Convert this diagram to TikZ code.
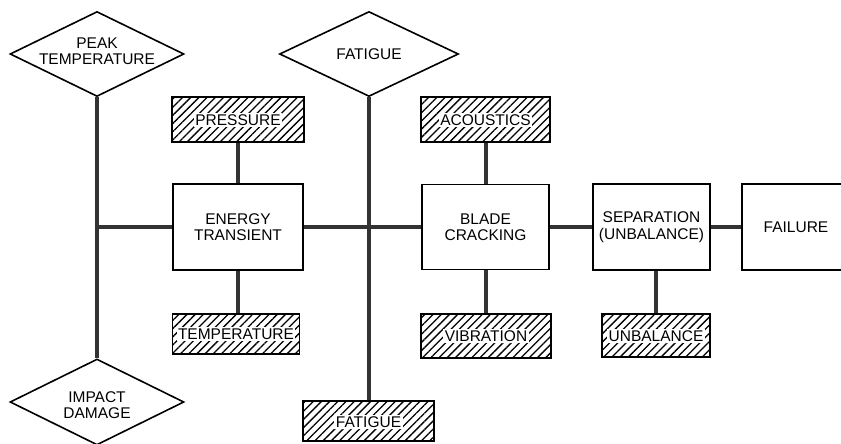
\documentclass[tikz,border=0pt]{standalone}
\usepackage{fontspec}
\setmainfont{Liberation Sans}
\usetikzlibrary{shapes.geometric,patterns.meta}
\tikzset{
  lbl/.style={font=\fontsize{15.5}{16.5}\selectfont, align=center, inner sep=0pt},
  box/.style={draw, line width=1.8pt, fill=white, minimum width=#1, inner sep=0pt},
  plainbox/.style={draw, line width=1.8pt, fill=white, rectangle, inner sep=0pt},
  hatchbox/.style={draw, line width=1.8pt, rectangle, inner sep=0pt,
    pattern={Lines[angle=45,distance=5.8pt,line width=1.3pt]}},
  htext/.style={lbl, fill=white, inner sep=1.5pt},
  dia/.style={draw, line width=1.6pt, diamond, inner sep=0pt, fill=white},
  conn/.style={line width=4pt, black!80}
}
\begin{document}
\begin{tikzpicture}[x=1pt,y=-1pt]
\useasboundingbox (0,0) rectangle (841,444);
% connectors first (behind boxes)
\coordinate (pst) at (97,97);
\coordinate (imt) at (97,359);
\coordinate (junc) at (97,227);
% diamonds
\node[dia, minimum width=174pt, minimum height=85pt] (pt) at (97,54) {};
\node[lbl] (ptt) at (97,51) {PEAK\\TEMPERATURE};
\node[dia, minimum width=179pt, minimum height=85pt] (fd) at (369,54) {};
\node[lbl] (fdt) at (369,54) {FATIGUE};
\node[dia, minimum width=174pt, minimum height=86pt] (im) at (97,402) {};
\node[lbl] (imt2) at (97,405) {IMPACT\\DAMAGE};
% main boxes
\node[plainbox, minimum width=130pt, minimum height=86pt] (en) at (238,227) {};
\node[lbl] (ent) at (238,227) {ENERGY\\TRANSIENT};
\node[plainbox, minimum width=127pt, minimum height=85pt] (bc) at (485.5,227) {};
\node[lbl] (bct) at (485.5,227) {BLADE\\CRACKING};
\node[plainbox, minimum width=117pt, minimum height=86pt] (sep) at (651.5,227) {};
\node[lbl] (sept) at (651.5,227) {SEPARATION\\(UNBALANCE)};
\node[plainbox, minimum width=108pt, minimum height=86pt] (fail) at (796,227) {};
\node[lbl] (failt) at (796,227) {FAILURE};
% hatched boxes
\node[hatchbox, minimum width=132pt, minimum height=45pt] (pres) at (238,119.5) {};
\node[htext] (prest) at (238,120) {PRESSURE};
\node[hatchbox, minimum width=127pt, minimum height=40pt] (temp) at (236,334) {};
\node[htext] (tempt) at (236,334) {TEMPERATURE};
\node[hatchbox, minimum width=129pt, minimum height=45pt] (ac) at (485.5,119.5) {};
\node[htext] (act) at (485.5,120) {ACOUSTICS};
\node[hatchbox, minimum width=130pt, minimum height=44pt] (vib) at (486,336) {};
\node[htext] (vibt) at (486,336) {VIBRATION};
\node[hatchbox, minimum width=108pt, minimum height=43pt] (unb) at (656,335.5) {};
\node[htext] (unbt) at (656,336) {UNBALANCE};
\node[hatchbox, minimum width=131pt, minimum height=40pt] (fb) at (368.5,421) {};
\node[htext] (fbt) at (368.5,422) {FATIGUE};
% connectors
\begin{scope}[on background layer/.style={}]
\draw[conn] (pt.south) -- (im.north);
\draw[conn] (pt.south |- en.west) -- (en.west);
\draw[conn] (fd.south) -- (fd.south |- fb.north);
\draw[conn] (en.east) -- (bc.west);
\draw[conn] (bc.east) -- (sep.west);
\draw[conn] (sep.east) -- (fail.west);
\draw[conn] (pres.south) -- (pres.south |- en.north);
\draw[conn] (en.south |- temp.north) -- (en.south);
\draw[conn] (ac.south) -- (ac.south |- bc.north);
\draw[conn] (bc.south) -- (bc.south |- vib.north);
\draw[conn] (unb.north |- sep.south) -- (unb.north);
\end{scope}
\end{tikzpicture}
\end{document}
